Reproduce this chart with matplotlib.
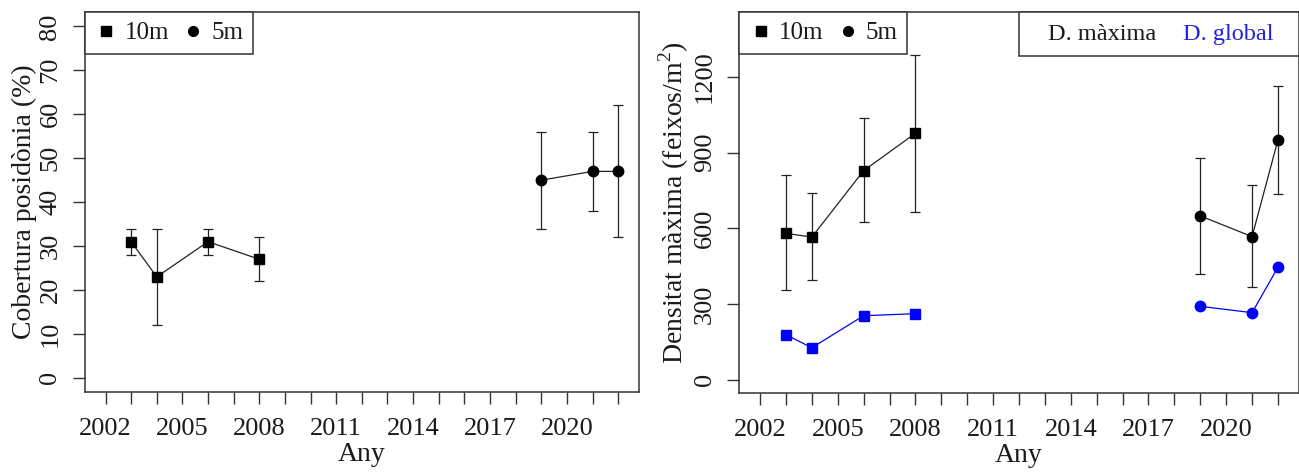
import matplotlib
matplotlib.use('Agg')
import matplotlib.pyplot as plt
from matplotlib.lines import Line2D
from matplotlib.patches import Rectangle

plt.rcParams['font.family'] = ['Liberation Serif', 'DejaVu Serif']
plt.rcParams['mathtext.fontset'] = 'custom'
plt.rcParams['mathtext.rm'] = 'Liberation Serif'

# Cobertura (%), 10m i 5m
years_10m = [2003, 2004, 2006, 2008]
years_5m = [2019, 2021, 2022]
cob_10m = [31, 23, 31, 27]
cob_10m_lo = [28, 12, 28, 22]
cob_10m_hi = [34, 34, 34, 32]
cob_5m = [45, 47, 47]
cob_5m_lo = [34, 38, 32]
cob_5m_hi = [56, 56, 62]

# Densitat (feixos/m2)
dmax_10m = [580, 565, 828, 976]
dmax_10m_lo = [355, 395, 624, 666]
dmax_10m_hi = [809, 739, 1037, 1286]
dmax_5m = [649, 567, 950]
dmax_5m_lo = [419, 366, 735]
dmax_5m_hi = [879, 770, 1164]
dglob_10m = [179, 127, 254, 262]
dglob_5m = [291, 266, 446]

year_ticks = list(range(2002, 2023))
year_labels = [str(y) if (y - 2002) % 3 == 0 else '' for y in year_ticks]

FS = 19
LFS = 18
TXT = '#1a1a1a'
W, H = 1299, 472
fig = plt.figure(figsize=(W / 100, H / 100), dpi=100)
ax1 = fig.add_axes([85 / W, (H - 392) / H, 553.7 / W, 379.7 / H])
ax2 = fig.add_axes([739.3 / W, (H - 393) / H, 559.4 / W, 380.7 / H])


def errs(v, lo, hi):
    return [[a - b for a, b in zip(v, lo)], [c - a for a, c in zip(v, hi)]]


def style_axes(ax):
    ax.set_xlim(2001.2, 2022.8)
    ax.set_xticks(year_ticks)
    ax.set_xticklabels(year_labels)
    for s in ax.spines.values():
        s.set_color('#333333')
        s.set_linewidth(1.1)
    ax.tick_params(axis='both', direction='out', length=8.5, width=1.0,
                   color='#333333', labelsize=FS, labelcolor=TXT)
    ax.tick_params(axis='x', pad=10)
    ax.tick_params(axis='y', pad=8.5, labelrotation=90)
    for lab in ax.get_yticklabels():
        lab.set_va('center')
    ax.set_xlabel('Any', fontsize=FS + 1, color=TXT, labelpad=1.5)


def depth_legend(ax):
    handles = [Line2D([], [], ls='none', marker='s', color='black', markersize=6.8),
               Line2D([], [], ls='none', marker='o', color='black', markersize=7)]
    leg = ax.legend(handles, ['10m', '5m'], loc='upper left', bbox_to_anchor=(0, 1),
                    borderaxespad=0, ncol=2, fontsize=LFS, frameon=True,
                    fancybox=False, framealpha=1, edgecolor='#333333',
                    handlelength=0.95, handletextpad=0.25, columnspacing=0.5,
                    borderpad=0.38, labelcolor=TXT)
    leg.get_frame().set_linewidth(1.1)
    return leg


eb = dict(capsize=3.3, elinewidth=0.9, capthick=0.9, lw=0.9)

# Panell esquerre
ax1.errorbar(years_10m, cob_10m, yerr=errs(cob_10m, cob_10m_lo, cob_10m_hi),
             color='#222222', marker='s', markersize=7, mfc='black', mec='black', **eb)
ax1.errorbar(years_5m, cob_5m, yerr=errs(cob_5m, cob_5m_lo, cob_5m_hi),
             color='#222222', marker='o', markersize=7.5, mfc='black', mec='black', **eb)
ax1.set_ylim(-3.2, 83.2)
ax1.set_yticks(range(0, 81, 10))
style_axes(ax1)
ax1.set_ylabel('Cobertura posidònia (%)', fontsize=FS + 1, color=TXT, labelpad=1.5)
depth_legend(ax1)

# Panell dret
ax2.errorbar(years_10m, dmax_10m, yerr=errs(dmax_10m, dmax_10m_lo, dmax_10m_hi),
             color='#222222', marker='s', markersize=7, mfc='black', mec='black', **eb)
ax2.errorbar(years_5m, dmax_5m, yerr=errs(dmax_5m, dmax_5m_lo, dmax_5m_hi),
             color='#222222', marker='o', markersize=7.5, mfc='black', mec='black', **eb)
ax2.plot(years_10m, dglob_10m, color='blue', lw=0.9, marker='s', markersize=7)
ax2.plot(years_5m, dglob_5m, color='blue', lw=0.9, marker='o', markersize=7.5)
ax2.set_ylim(-52, 1455)
ax2.set_yticks(range(0, 1201, 300))
style_axes(ax2)
ax2.set_ylabel('Densitat màxima (feixos/m$^2$)', fontsize=FS + 1, color=TXT, labelpad=2)
depth_legend(ax2)

# llegenda de tipus de densitat (caixa a dalt a la dreta)
ax2.add_patch(Rectangle((0.5, 1 - 0.1156), 0.5, 0.1156, transform=ax2.transAxes,
                        facecolor='white', edgecolor='#333333', lw=1.1, zorder=5,
                        clip_on=False))
ax2.text(0.6486, 0.942, 'D. màxima', transform=ax2.transAxes, ha='center', va='center',
         fontsize=17.5, color=TXT, zorder=6)
ax2.text(0.874, 0.942, 'D. global', transform=ax2.transAxes, ha='center', va='center',
         fontsize=17.5, color='#2222dd', zorder=6)

plt.savefig('out.png', dpi=100)
